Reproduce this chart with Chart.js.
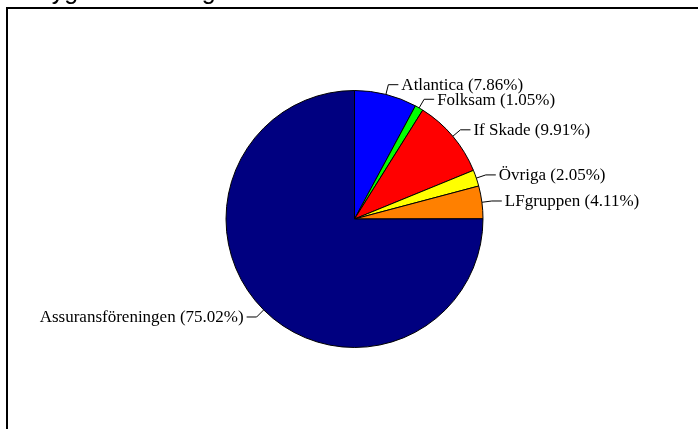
<!DOCTYPE html>
<html>
<head>
<meta charset="utf-8">
<script src="https://cdn.jsdelivr.net/npm/chart.js@4.4.1/dist/chart.umd.min.js"></script>
<style>
  html, body { margin: 0; padding: 0; background: #fff; overflow: hidden; }
  #wrap { position: relative; width: 698px; height: 429px; }
  #frame { position: absolute; left: 6px; top: 7px; right: 0; bottom: 0;
           border-top: 2px solid #000; border-left: 2px solid #000; pointer-events: none; }
  canvas { position: absolute; left: 0; top: 0; }
</style>
</head>
<body>
<div id="wrap">
  <canvas id="c" width="698" height="429"></canvas>
  <div id="frame"></div>
</div>
<script>
const titleText = 'Bygdeförsäkring';
const categories = ['Atlantica', 'Folksam', 'If Skade', 'Övriga', 'LFgruppen', 'Assuransföreningen'];
const shares = [7.86, 1.05, 9.91, 2.05, 4.11, 75.02];
const sliceColors = ['#0000FF', '#00FF00', '#FF0000', '#FFFF00', '#FF8000', '#000080'];

const labelPlugin = {
  id: 'leaderLabels',
  afterDraw(chart) {
    const ctx = chart.ctx;
    const meta = chart.getDatasetMeta(0);
    ctx.save();
    // cut-off title at the very top
    ctx.fillStyle = '#000';
    ctx.font = '25px "Liberation Sans", Arial, sans-serif';
    ctx.textAlign = 'left';
    ctx.textBaseline = 'alphabetic';
    ctx.fillText(titleText, 35, -1.5);

    ctx.font = '17px "Liberation Serif", "Times New Roman", serif';
    ctx.textBaseline = 'middle';
    ctx.strokeStyle = '#000';
    ctx.lineWidth = 1;
    meta.data.forEach((arc, i) => {
      const p = arc.getProps(['x', 'y', 'startAngle', 'endAngle', 'outerRadius'], true);
      const mid = (p.startAngle + p.endAngle) / 2;
      const ex = p.x + Math.cos(mid) * p.outerRadius;
      const ey = p.y + Math.sin(mid) * p.outerRadius;
      const bx = p.x + Math.cos(mid) * (p.outerRadius + 10);
      const by = p.y + Math.sin(mid) * (p.outerRadius + 10);
      const right = Math.cos(mid) >= 0;
      const hx = bx + (right ? 10 : -10);
      ctx.beginPath();
      ctx.moveTo(ex, ey);
      ctx.lineTo(bx, by);
      ctx.lineTo(hx, by);
      ctx.stroke();
      const txt = categories[i] + ' (' + shares[i].toFixed(2) + '%)';
      ctx.textAlign = right ? 'left' : 'right';
      ctx.fillText(txt, hx + (right ? 3 : -3), by + 1);
    });
    ctx.restore();
  }
};

new Chart(document.getElementById('c'), {
  type: 'pie',
  data: {
    labels: categories,
    datasets: [{
      data: shares,
      backgroundColor: sliceColors,
      borderColor: '#000',
      borderWidth: 1
    }]
  },
  options: {
    responsive: false,
    animation: false,
    rotation: 0,
    layout: { padding: { top: 90, bottom: 81, left: 199, right: 188 } },
    plugins: {
      legend: { display: false },
      tooltip: { enabled: false },
      title: { display: false }
    }
  },
  plugins: [labelPlugin]
});
</script>
</body>
</html>
